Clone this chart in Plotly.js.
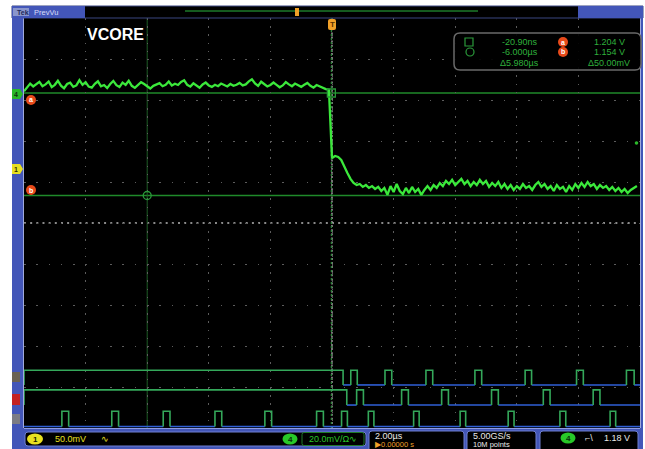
<!DOCTYPE html>
<html><head><meta charset="utf-8">
<script src="https://cdn.plot.ly/plotly-3.0.1.min.js"></script>
<style>html,body{margin:0;padding:0;background:#fff}#chart{width:645px;height:449px}</style>
</head><body><div id="chart"></div>
<script>
// ---------- data ----------
const timeStartUs = -10;          // left edge of record (µs)
const samplePeriodUs = 0.1;       // trace sample spacing (µs)
// CH4 (VCORE) before the load step, volts
const vcorePre = [
1.2048,1.2069,1.2086,1.2072,1.2081,1.2094,1.2073,1.2082,1.2096,1.2069,
1.2080,1.2100,1.2076,1.2063,1.2084,1.2090,1.2070,1.2077,1.2103,1.2080,
1.2093,1.2071,1.2066,1.2085,1.2097,1.2073,1.2079,1.2064,1.2084,1.2099,
1.2078,1.2069,1.2091,1.2080,1.2100,1.2075,1.2065,1.2079,1.2093,1.2084,
1.2072,1.2062,1.2075,1.2082,1.2088,1.2073,1.2080,1.2096,1.2077,1.2085,
1.2079,1.2094,1.2102,1.2080,1.2071,1.2087,1.2075,1.2066,1.2082,1.2091,
1.2077,1.2070,1.2080,1.2073,1.2086,1.2079,1.2072,1.2084,1.2075,1.2080,
1.2089,1.2077,1.2082,1.2097,1.2107,1.2087,1.2075,1.2095,1.2084,1.2072,
1.2079,1.2091,1.2080,1.2068,1.2077,1.2093,1.2082,1.2073,1.2086,1.2079,
1.2070,1.2080,1.2089,1.2075,1.2066,1.2079,1.2072,1.2064,1.2059,1.2056];
// CH4 (VCORE) from the trigger on, volts
const vcorePost = [
1.1723,1.1733,1.1728,1.1713,1.1679,1.1650,1.1621,1.1601,1.1591,1.1596,
1.1582,1.1591,1.1577,1.1586,1.1572,1.1582,1.1562,1.1577,1.1543,1.1586,
1.1557,1.1596,1.1562,1.1547,1.1577,1.1552,1.1582,1.1557,1.1572,1.1543,
1.1567,1.1586,1.1567,1.1591,1.1577,1.1601,1.1586,1.1611,1.1596,1.1616,
1.1591,1.1606,1.1621,1.1596,1.1611,1.1586,1.1606,1.1591,1.1616,1.1596,
1.1611,1.1582,1.1601,1.1586,1.1606,1.1577,1.1596,1.1572,1.1591,1.1567,
1.1586,1.1572,1.1596,1.1577,1.1586,1.1567,1.1591,1.1606,1.1582,1.1596,
1.1572,1.1586,1.1562,1.1591,1.1572,1.1582,1.1557,1.1586,1.1567,1.1596,
1.1577,1.1601,1.1582,1.1606,1.1586,1.1596,1.1572,1.1591,1.1577,1.1586,
1.1567,1.1582,1.1562,1.1577,1.1557,1.1572,1.1552,1.1567,1.1577,1.1586];
// cursors
const cursorTimes = [-0.0209, -6.000];   // µs  (a, b)
const cursorVolts = [1.204, 1.154];      // V   (a, b)
const ch4VoltsPerDiv = 0.020;
const ch4CenterVolts = 1.14059;
const usPerDiv = 2;
// digital channels: high intervals [start, end] in µs
const d1High = [[-10,0.36],[0.61,0.82],[1.72,1.94],[3.05,3.27],[4.64,4.86],[6.27,6.48],[7.94,8.16],[9.56,9.81]];
const d2High = [[-10,0.48],[0.80,1.02],[2.26,2.48],[3.56,3.78],[5.18,5.40],[6.86,7.08],[8.48,8.70]];
const d3High = [[-8.77,-8.55],[-7.15,-6.93],[-5.48,-5.26],[-3.80,-3.58],[-2.18,-1.96],[-0.50,-0.28],
                [0.31,0.50],[1.18,1.36],[2.65,2.83],[4.16,4.34],[5.72,5.91],[7.40,7.59],[9.03,9.21]];
// readout texts
const readoutTimes = ['-20.90ns', '-6.000µs', 'Δ5.980µs'];
const readoutVolts = ['1.204 V', '1.154 V', 'Δ50.00mV'];
const statusTexts = {ch1:'50.0mV', ch4:'20.0mV/Ω', timebase:'2.00µs', pos:'▶0.00000 s',
                     rate:'5.00GS/s', points:'10M points', trig:'1.18 V'};

// ---------- build ----------
const tPre = vcorePre.map((v,i)=>timeStartUs + i*samplePeriodUs);
const tPost = vcorePost.map((v,i)=>i*samplePeriodUs);
const tAll = tPre.concat(tPost), vAll = vcorePre.concat(vcorePost);

const X0=-5*usPerDiv, X1=5*usPerDiv;
const Y0=ch4CenterVolts-5*ch4VoltsPerDiv, Y1=ch4CenterVolts+5*ch4VoltsPerDiv;

const DGREEN='#34a85a', DBLUE='#2f5fd6';
function digital(high, lo, hi){
  const gx=[],gy=[],bx=[],by=[];
  let prev=X0;
  high.forEach(([a,b])=>{
    if(a>prev){bx.push(prev,a,null);by.push(lo,lo,null);}
    gx.push(a,a,b,b,null); gy.push(lo,hi,hi,lo,null);
    prev=b;
  });
  if(prev<X1){bx.push(prev,X1,null);by.push(lo,lo,null);}
  return [
    {x:bx,y:by,yaxis:'y2',mode:'lines',line:{color:DBLUE,width:1.6},hoverinfo:'skip',connectgaps:false},
    {x:gx,y:gy,yaxis:'y2',mode:'lines',line:{color:DGREEN,width:1.6},hoverinfo:'skip',connectgaps:false}
  ];
}
const traces = [].concat(
  digital(d1High, 1.05, 1.41),
  digital(d2High, 0.56, 0.93),
  digital(d3High, 0.035, 0.41),
  [{x:tAll,y:vAll,mode:'lines',line:{color:'#3be83b',width:2.3},hoverinfo:'skip'},
   {x:cursorTimes,y:cursorVolts,mode:'markers',hoverinfo:'skip',
    marker:{symbol:['square-open','circle-open'],size:8,color:'#2a9a3a',line:{width:1.3,color:'#2a9a3a'}}}]
);

// pixel helpers for screen furniture
const L=24,R=640,T=18,B=428;
const px=x=>(x-L)/(R-L), py=y=>(B-y)/(B-T);
const BLUE='#4356b8';
function rect(x0,y0,x1,y1,fill,line,lw){
  return {type:'rect',xref:'paper',yref:'paper',x0:px(x0),x1:px(x1),y0:py(y1),y1:py(y0),
          fillcolor:fill,line:{color:line||fill,width:lw||0},layer:'above'};
}
function rrect(x0,y0,x1,y1,r,fill,line,lw){
  const X=[px(x0),px(x1)], Y=[py(y0),py(y1)];
  const rx=r/(R-L), ry=r/(B-T);
  const a=X[0],b=X[1],c=Y[0],d=Y[1];
  const p=`M${a+rx},${c} L${b-rx},${c} Q${b},${c} ${b},${c-ry} L${b},${d+ry} Q${b},${d} ${b-rx},${d} L${a+rx},${d} Q${a},${d} ${a},${d+ry} L${a},${c-ry} Q${a},${c} ${a+rx},${c} Z`;
  return {type:'path',xref:'paper',yref:'paper',path:p,fillcolor:fill,line:{color:line||fill,width:lw||0},layer:'above'};
}
function circ(cx,cy,rxp,ryp,fill,line,lw){
  return {type:'circle',xref:'paper',yref:'paper',x0:px(cx-rxp),x1:px(cx+rxp),y0:py(cy+ryp),y1:py(cy-ryp),
          fillcolor:fill,line:{color:line||fill,width:lw||0},layer:'above'};
}
function tag(x0,y0,x1,y1,fill){
  const m=(y0+y1)/2;
  const p=`M${px(x0)},${py(y0)} L${px(x1-3)},${py(y0)} L${px(x1)},${py(m)} L${px(x1-3)},${py(y1)} L${px(x0)},${py(y1)} Z`;
  return {type:'path',xref:'paper',yref:'paper',path:p,fillcolor:fill,line:{width:0},layer:'above'};
}
function txt(x,y,s,color,size,anchor,bold){
  return {xref:'paper',yref:'paper',x:px(x),y:py(y),text:bold?'<b>'+s+'</b>':s,showarrow:false,
          xanchor:anchor||'left',yanchor:'middle',font:{family:'Liberation Sans, Arial, sans-serif',size:size,color:color}};
}

const shapes = [
  {type:'line',xref:'x',yref:'y',x0:X0,x1:X1,y0:ch4CenterVolts,y1:ch4CenterVolts,line:{color:'#b8b8b8',width:1.5,dash:'2px,4.16px'},layer:'below'},
  {type:'line',xref:'x',yref:'y',x0:0,x1:0,y0:Y0,y1:Y1,line:{color:'#9a9a9a',width:1.5,dash:'2px,2.1px'},layer:'below'},
  {type:'line',xref:'x',yref:'y',x0:X0,x1:X1,y0:cursorVolts[0],y1:cursorVolts[0],line:{color:'#1f8a2a',width:1.5},layer:'below'},
  {type:'line',xref:'x',yref:'y',x0:X0,x1:X1,y0:cursorVolts[1],y1:cursorVolts[1],line:{color:'#1f8a2a',width:1.5},layer:'below'},
  {type:'line',xref:'x',yref:'y',x0:cursorTimes[0],x1:cursorTimes[0],y0:Y0,y1:Y1,line:{color:'#2f8a3c',width:1.2,dash:'2px,2px'},layer:'below'},
  {type:'line',xref:'x',yref:'y',x0:cursorTimes[1],x1:cursorTimes[1],y0:Y0,y1:Y1,line:{color:'#1d5e26',width:1},layer:'below'},
  rect(12,6,643,18,'#000','#3a4680',1),
  rect(12,6,85,18,BLUE),
  rect(13,8,29,16,'#8a96cc'),
  rect(578,6,643,18,BLUE),
  {type:'line',xref:'paper',yref:'paper',x0:px(185),x1:px(478),y0:py(11),y1:py(11),line:{color:'#1d7a2a',width:1.5},layer:'above'},
  rect(295,8,299,16,'#f0a028'),
  rect(12,18,23.5,428,BLUE),
  rect(640.5,18,643,428,BLUE),
  rect(12,428,643,449,BLUE),
  {type:'line',xref:'paper',yref:'paper',x0:px(24),x1:px(640),y0:py(428.5),y1:py(428.5),line:{color:'#8e9be0',width:1},layer:'above'},
  rrect(328,19,336,30,2,'#f0a028'),
  tag(12,89,23,99,'#28b828'),
  tag(12,164,23,174,'#e8e020'),
  rect(12,372,20,382,'#6b6252'),
  rect(12,394,20,405,'#c42222'),
  rect(12,414,20,424,'#7c7c84'),
  circ(31,100,5,5,'#e84a1a'),
  circ(31,190,5,5,'#e84a1a'),
  circ(636.5,143,1.8,1.8,'#2bb82b'),
  rrect(454,33,641,70,6,'rgba(0,0,0,0.92)','#6a6a6a',1.5),
  rect(465,38,473,46,'rgba(0,0,0,0)','#2a9a3a',1.2),
  circ(470,52,4,4,'rgba(0,0,0,0)','#2a9a3a',1.2),
  circ(563,42,5,5,'#e84a1a'),
  circ(563,52,5,5,'#e84a1a'),
  rrect(25,432,366,446,3,'#000','#6f7fd0',1),
  circ(35,439,8,5.5,'#e8e020'),
  circ(290,439,7.5,5.5,'#28c828'),
  rrect(302,432.5,364,445.5,2,'rgba(0,0,0,0)','#1f7a2a',1),
  rrect(369,431,464,452,3,'#000','#6f7fd0',1),
  rrect(467,431,536,452,3,'#000','#6f7fd0',1),
  rrect(540,431,638,452,3,'#000','#6f7fd0',1),
  circ(568,438,7.5,5.5,'#28c828')
];

const G='#2fb03c';
const annotations = [
  txt(85,34,'VCORE','#ffffff',16,'left',true),
  txt(14.5,12.3,'Tek','#20285a',7,'left',true),
  txt(32,12.3,'PrevVu','#d8def8',7.5,'left'),
  txt(332,24.5,'T','#5a3000',8,'center',true),
  txt(16,94,'4','#103010',7,'center',true),
  txt(16,169,'1','#303000',7,'center',true),
  txt(31,100,'a','#ffffff',7,'center',true),
  txt(31,190,'b','#ffffff',7,'center',true),
  txt(540,42,readoutTimes[0],G,9,'right'),
  txt(540,52,readoutTimes[1],G,9,'right'),
  txt(541,63,readoutTimes[2],G,9,'right'),
  txt(563,42,'a','#ffffff',7,'center',true),
  txt(563,52,'b','#ffffff',7,'center',true),
  txt(627,42,readoutVolts[0],G,9,'right'),
  txt(627,52,readoutVolts[1],G,9,'right'),
  txt(632,63,readoutVolts[2],G,9,'right'),
  txt(35,439.3,'1','#202000',8,'center',true),
  txt(53,439.3,statusTexts.ch1,'#e8e020',9,'left'),
  txt(99,439.3,'∿','#e8e020',9,'left'),
  txt(290,439.3,'4','#0a300a',8,'center',true),
  txt(307,439.3,statusTexts.ch4+'∿','#28c828',9,'left'),
  txt(373,436.3,statusTexts.timebase,'#e8e8e8',9,'left'),
  txt(373,444.3,statusTexts.pos,'#f0a028',7.5,'left'),
  txt(471,436.3,statusTexts.rate,'#e8e8e8',9,'left'),
  txt(471,444.3,statusTexts.points,'#e8e8e8',7.5,'left'),
  txt(568,438.3,'4','#0a300a',8,'center',true),
  txt(583,438,'⌐\\','#e8e8e8',9,'left'),
  txt(632,438,statusTexts.trig,'#e8e8e8',9,'right')
];

const layout = {
  width:645,height:449,
  margin:{l:L,r:645-R,t:T,b:449-B,pad:0},
  paper_bgcolor:'#ffffff',plot_bgcolor:'#000000',
  showlegend:false,
  xaxis:{range:[X0,X1],tick0:0,dtick:usPerDiv,showgrid:true,gridcolor:'#5c5c5c',gridwidth:1,
         griddash:'1.5px,6.7px',zeroline:false,showline:false,ticks:'',showticklabels:false,fixedrange:true},
  yaxis:{range:[Y0,Y1],tick0:ch4CenterVolts,dtick:ch4VoltsPerDiv,showgrid:true,gridcolor:'#5c5c5c',gridwidth:1,
         griddash:'1.5px,10.8px',zeroline:false,showline:false,ticks:'',showticklabels:false,fixedrange:true},
  yaxis2:{range:[0,10],overlaying:'y',visible:false,fixedrange:true},
  shapes:shapes,annotations:annotations
};
Plotly.newPlot('chart',traces,layout,{staticPlot:true,displayModeBar:false});
</script></body></html>
